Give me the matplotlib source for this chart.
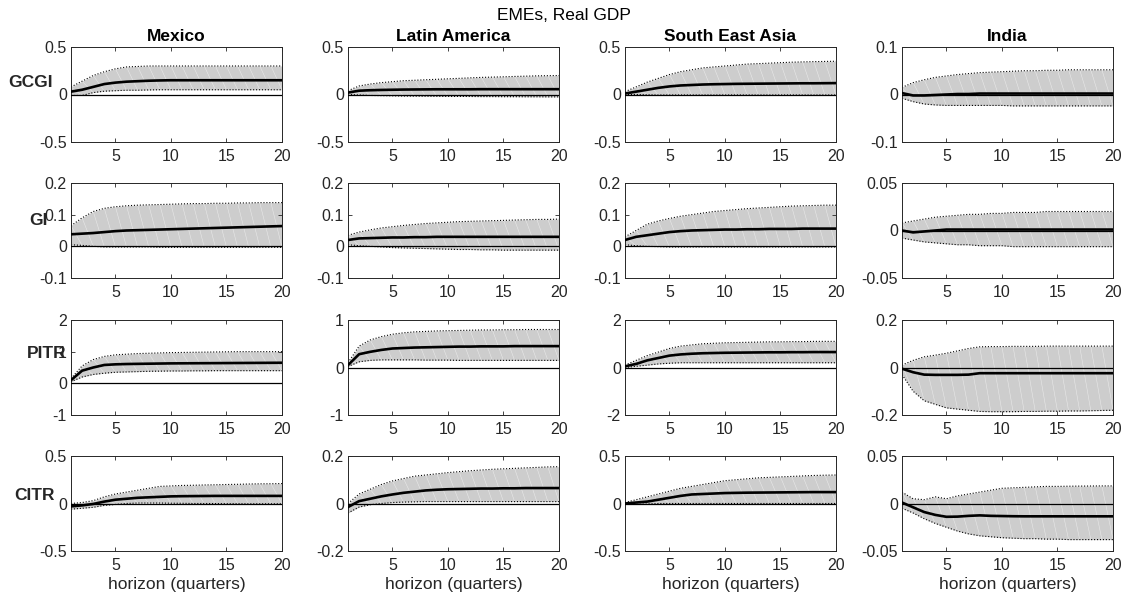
import numpy as np
import matplotlib
matplotlib.use("Agg")
import matplotlib.pyplot as plt

plt.rcParams['font.family'] = ['Liberation Sans', 'DejaVu Sans']

horizon = np.arange(1, 21)
variables = ['GCGI', 'GI', 'PITR', 'CITR']
regions = ['Mexico', 'Latin America', 'South East Asia', 'India']

# --- GCGI shock ---
gcgi_mex_mid = [0.03, 0.05, 0.08, 0.11, 0.125, 0.135, 0.14, 0.145, 0.148, 0.15, 0.15, 0.15, 0.15, 0.15, 0.15, 0.15, 0.15, 0.15, 0.15, 0.15]
gcgi_mex_hi = [0.08, 0.14, 0.20, 0.24, 0.27, 0.29, 0.295, 0.30, 0.30, 0.30, 0.30, 0.30, 0.30, 0.30, 0.30, 0.30, 0.30, 0.30, 0.30, 0.30]
gcgi_mex_lo = [-0.01, -0.01, 0.02, 0.035, 0.04, 0.045, 0.045, 0.048, 0.05, 0.05, 0.05, 0.05, 0.05, 0.05, 0.05, 0.05, 0.05, 0.05, 0.05, 0.05]

gcgi_lat_mid = [0.02, 0.04, 0.045, 0.048, 0.05, 0.052, 0.053, 0.054, 0.055, 0.055, 0.055, 0.055, 0.056, 0.056, 0.056, 0.056, 0.056, 0.056, 0.056, 0.056]
gcgi_lat_hi = [0.04, 0.09, 0.11, 0.125, 0.135, 0.145, 0.15, 0.155, 0.16, 0.165, 0.17, 0.175, 0.18, 0.183, 0.186, 0.19, 0.193, 0.196, 0.198, 0.20]
gcgi_lat_lo = [0.0, -0.005, -0.01, -0.012, -0.014, -0.016, -0.017, -0.018, -0.019, -0.02, -0.02, -0.021, -0.022, -0.022, -0.023, -0.023, -0.024, -0.024, -0.025, -0.025]

gcgi_sea_mid = [0.01, 0.03, 0.05, 0.07, 0.085, 0.095, 0.10, 0.105, 0.108, 0.11, 0.112, 0.113, 0.114, 0.115, 0.116, 0.117, 0.118, 0.118, 0.119, 0.12]
gcgi_sea_hi = [0.03, 0.08, 0.13, 0.17, 0.21, 0.24, 0.26, 0.28, 0.29, 0.30, 0.31, 0.32, 0.325, 0.33, 0.335, 0.34, 0.343, 0.346, 0.348, 0.35]
gcgi_sea_lo = [0.0, 0.0, -0.003, -0.005, -0.005, -0.005, -0.005, -0.005, -0.005, -0.005, -0.005, -0.005, -0.005, -0.005, -0.005, -0.005, -0.005, -0.005, -0.005, -0.005]

gcgi_ind_mid = [0.003, -0.002, -0.002, -0.001, 0.0, 0.001, 0.001, 0.002, 0.002, 0.002, 0.002, 0.002, 0.002, 0.002, 0.002, 0.002, 0.002, 0.002, 0.002, 0.002]
gcgi_ind_hi = [0.015, 0.025, 0.031, 0.036, 0.039, 0.042, 0.044, 0.046, 0.047, 0.048, 0.049, 0.05, 0.05, 0.051, 0.051, 0.052, 0.052, 0.052, 0.052, 0.052]
gcgi_ind_lo = [-0.008, -0.015, -0.02, -0.022, -0.023, -0.023, -0.023, -0.023, -0.023, -0.023, -0.024, -0.024, -0.024, -0.024, -0.024, -0.024, -0.024, -0.024, -0.024, -0.024]

# --- GI shock ---
gi_mex_mid = [0.038, 0.04, 0.042, 0.045, 0.048, 0.05, 0.051, 0.052, 0.053, 0.054, 0.055, 0.056, 0.057, 0.058, 0.059, 0.06, 0.061, 0.062, 0.063, 0.064]
gi_mex_hi = [0.065, 0.09, 0.11, 0.12, 0.125, 0.128, 0.13, 0.131, 0.132, 0.133, 0.134, 0.135, 0.135, 0.136, 0.136, 0.137, 0.137, 0.138, 0.138, 0.138]
gi_mex_lo = [0.005, 0.003, 0.0, -0.002, -0.002, -0.002, -0.002, -0.002, -0.003, -0.003, -0.003, -0.003, -0.003, -0.003, -0.003, -0.003, -0.003, -0.003, -0.003, -0.003]

gi_lat_mid = [0.02, 0.025, 0.026, 0.027, 0.028, 0.028, 0.029, 0.029, 0.03, 0.03, 0.03, 0.03, 0.03, 0.03, 0.03, 0.03, 0.03, 0.03, 0.03, 0.03]
gi_lat_hi = [0.035, 0.045, 0.052, 0.058, 0.062, 0.066, 0.069, 0.072, 0.074, 0.076, 0.078, 0.079, 0.08, 0.081, 0.082, 0.083, 0.084, 0.085, 0.085, 0.086]
gi_lat_lo = [0.005, 0.002, 0.0, -0.002, -0.004, -0.005, -0.006, -0.007, -0.008, -0.009, -0.01, -0.01, -0.011, -0.011, -0.012, -0.012, -0.012, -0.012, -0.012, -0.012]

gi_sea_mid = [0.02, 0.03, 0.035, 0.04, 0.045, 0.048, 0.05, 0.051, 0.052, 0.053, 0.053, 0.054, 0.054, 0.055, 0.055, 0.055, 0.056, 0.056, 0.056, 0.056]
gi_sea_hi = [0.03, 0.05, 0.07, 0.08, 0.088, 0.095, 0.10, 0.105, 0.11, 0.113, 0.116, 0.119, 0.121, 0.123, 0.125, 0.127, 0.128, 0.129, 0.13, 0.13]
gi_sea_lo = [0.005, 0.002, 0.0, -0.001, -0.002, -0.002, -0.002, -0.002, -0.002, -0.002, -0.002, -0.002, -0.002, -0.002, -0.002, -0.002, -0.002, -0.002, -0.002, -0.002]

gi_ind_mid = [0.0, -0.002, -0.001, 0.0, 0.001, 0.001, 0.001, 0.001, 0.001, 0.001, 0.001, 0.001, 0.001, 0.001, 0.001, 0.001, 0.001, 0.001, 0.001, 0.001]
gi_ind_hi = [0.008, 0.01, 0.012, 0.014, 0.015, 0.016, 0.017, 0.017, 0.018, 0.018, 0.019, 0.019, 0.019, 0.02, 0.02, 0.02, 0.02, 0.02, 0.02, 0.02]
gi_ind_lo = [-0.008, -0.01, -0.012, -0.013, -0.014, -0.015, -0.015, -0.016, -0.016, -0.016, -0.017, -0.017, -0.017, -0.017, -0.017, -0.017, -0.017, -0.017, -0.017, -0.017]

# --- PITR shock ---
pitr_mex_mid = [0.1, 0.4, 0.5, 0.58, 0.6, 0.61, 0.615, 0.62, 0.625, 0.63, 0.632, 0.634, 0.636, 0.638, 0.64, 0.642, 0.644, 0.646, 0.648, 0.65]
pitr_mex_hi = [0.15, 0.55, 0.75, 0.85, 0.9, 0.92, 0.94, 0.95, 0.96, 0.97, 0.975, 0.98, 0.985, 0.99, 0.995, 1.0, 1.0, 1.0, 1.0, 1.0]
pitr_mex_lo = [0.05, 0.2, 0.28, 0.32, 0.35, 0.36, 0.37, 0.38, 0.385, 0.39, 0.39, 0.395, 0.395, 0.4, 0.4, 0.4, 0.4, 0.4, 0.4, 0.4]

pitr_lat_mid = [0.05, 0.28, 0.33, 0.37, 0.4, 0.41, 0.42, 0.425, 0.43, 0.435, 0.44, 0.44, 0.445, 0.445, 0.445, 0.45, 0.45, 0.45, 0.45, 0.45]
pitr_lat_hi = [0.1, 0.45, 0.58, 0.65, 0.7, 0.73, 0.75, 0.76, 0.77, 0.775, 0.78, 0.785, 0.79, 0.79, 0.795, 0.795, 0.8, 0.8, 0.8, 0.8]
pitr_lat_lo = [0.02, 0.12, 0.15, 0.16, 0.16, 0.16, 0.16, 0.155, 0.155, 0.155, 0.15, 0.15, 0.15, 0.15, 0.15, 0.15, 0.15, 0.15, 0.15, 0.15]

pitr_sea_mid = [0.05, 0.15, 0.3, 0.4, 0.5, 0.55, 0.58, 0.6, 0.61, 0.62, 0.625, 0.63, 0.635, 0.64, 0.64, 0.645, 0.645, 0.65, 0.65, 0.65]
pitr_sea_hi = [0.1, 0.3, 0.5, 0.65, 0.8, 0.9, 0.95, 1.0, 1.02, 1.04, 1.05, 1.06, 1.07, 1.08, 1.08, 1.09, 1.09, 1.1, 1.1, 1.1]
pitr_sea_lo = [0.0, 0.05, 0.1, 0.15, 0.18, 0.2, 0.2, 0.2, 0.2, 0.2, 0.2, 0.2, 0.2, 0.2, 0.2, 0.2, 0.2, 0.2, 0.2, 0.2]

pitr_ind_mid = [-0.005, -0.02, -0.03, -0.031, -0.031, -0.031, -0.03, -0.024, -0.024, -0.024, -0.024, -0.024, -0.024, -0.024, -0.024, -0.024, -0.024, -0.024, -0.024, -0.024]
pitr_ind_hi = [0.01, 0.03, 0.045, 0.052, 0.06, 0.07, 0.08, 0.087, 0.088, 0.088, 0.089, 0.089, 0.089, 0.09, 0.09, 0.09, 0.09, 0.09, 0.09, 0.09]
pitr_ind_lo = [-0.03, -0.1, -0.14, -0.155, -0.17, -0.175, -0.18, -0.185, -0.186, -0.186, -0.186, -0.185, -0.185, -0.184, -0.184, -0.183, -0.183, -0.182, -0.181, -0.18]

# --- CITR shock ---
citr_mex_mid = [-0.03, -0.02, -0.005, 0.02, 0.04, 0.05, 0.06, 0.065, 0.07, 0.075, 0.077, 0.078, 0.079, 0.08, 0.08, 0.08, 0.08, 0.08, 0.08, 0.08]
citr_mex_hi = [0.0, 0.01, 0.03, 0.07, 0.10, 0.12, 0.14, 0.16, 0.18, 0.185, 0.19, 0.192, 0.195, 0.197, 0.2, 0.202, 0.205, 0.207, 0.208, 0.21]
citr_mex_lo = [-0.06, -0.05, -0.04, -0.02, -0.01, 0.0, 0.005, 0.005, 0.005, 0.003, 0.002, 0.0, 0.0, -0.001, -0.002, -0.002, -0.003, -0.003, -0.003, -0.003]

citr_lat_mid = [-0.015, 0.01, 0.02, 0.03, 0.038, 0.045, 0.05, 0.055, 0.058, 0.06, 0.061, 0.062, 0.063, 0.063, 0.064, 0.064, 0.065, 0.065, 0.065, 0.065]
citr_lat_hi = [0.0, 0.04, 0.06, 0.08, 0.095, 0.105, 0.115, 0.12, 0.125, 0.13, 0.134, 0.138, 0.141, 0.144, 0.146, 0.148, 0.15, 0.152, 0.154, 0.155]
citr_lat_lo = [-0.04, -0.015, -0.005, 0.0, 0.004, 0.006, 0.007, 0.008, 0.008, 0.008, 0.008, 0.008, 0.008, 0.008, 0.008, 0.008, 0.008, 0.008, 0.008, 0.008]

citr_sea_mid = [0.0, 0.01, 0.02, 0.04, 0.06, 0.08, 0.095, 0.10, 0.105, 0.11, 0.112, 0.114, 0.115, 0.116, 0.117, 0.118, 0.119, 0.12, 0.12, 0.12]
citr_sea_hi = [0.01, 0.04, 0.07, 0.10, 0.13, 0.16, 0.18, 0.20, 0.22, 0.24, 0.25, 0.26, 0.27, 0.275, 0.28, 0.285, 0.29, 0.295, 0.298, 0.30]
citr_sea_lo = [-0.01, -0.01, -0.005, 0.0, 0.0, 0.0, 0.0, 0.0, 0.0, 0.0, 0.0, 0.0, 0.0, 0.0, 0.0, 0.0, 0.0, 0.0, 0.0, 0.0]

citr_ind_mid = [0.001, -0.004, -0.009, -0.012, -0.014, -0.0138, -0.013, -0.0125, -0.013, -0.0132, -0.0134, -0.0135, -0.0135, -0.0135, -0.0135, -0.0135, -0.0135, -0.0135, -0.0135, -0.0135]
citr_ind_hi = [0.012, 0.005, 0.004, 0.007, 0.005, 0.008, 0.01, 0.012, 0.014, 0.016, 0.0165, 0.017, 0.0175, 0.018, 0.018, 0.0182, 0.0183, 0.0184, 0.0185, 0.0185]
citr_ind_lo = [-0.005, -0.01, -0.016, -0.021, -0.025, -0.029, -0.032, -0.034, -0.035, -0.036, -0.0365, -0.037, -0.037, -0.0375, -0.0375, -0.038, -0.038, -0.038, -0.038, -0.038]

irf = [
    [(gcgi_mex_mid, gcgi_mex_lo, gcgi_mex_hi), (gcgi_lat_mid, gcgi_lat_lo, gcgi_lat_hi),
     (gcgi_sea_mid, gcgi_sea_lo, gcgi_sea_hi), (gcgi_ind_mid, gcgi_ind_lo, gcgi_ind_hi)],
    [(gi_mex_mid, gi_mex_lo, gi_mex_hi), (gi_lat_mid, gi_lat_lo, gi_lat_hi),
     (gi_sea_mid, gi_sea_lo, gi_sea_hi), (gi_ind_mid, gi_ind_lo, gi_ind_hi)],
    [(pitr_mex_mid, pitr_mex_lo, pitr_mex_hi), (pitr_lat_mid, pitr_lat_lo, pitr_lat_hi),
     (pitr_sea_mid, pitr_sea_lo, pitr_sea_hi), (pitr_ind_mid, pitr_ind_lo, pitr_ind_hi)],
    [(citr_mex_mid, citr_mex_lo, citr_mex_hi), (citr_lat_mid, citr_lat_lo, citr_lat_hi),
     (citr_sea_mid, citr_sea_lo, citr_sea_hi), (citr_ind_mid, citr_ind_lo, citr_ind_hi)],
]

# y-axis ticks per panel (limits are first and last tick)
yticks = [
    [[-0.5, 0, 0.5], [-0.5, 0, 0.5], [-0.5, 0, 0.5], [-0.1, 0, 0.1]],
    [[-0.1, 0, 0.1, 0.2], [-0.1, 0, 0.1, 0.2], [-0.1, 0, 0.1, 0.2], [-0.05, 0, 0.05]],
    [[-1, 0, 1, 2], [-1, 0, 1], [-2, 0, 2], [-0.2, 0, 0.2]],
    [[-0.5, 0, 0.5], [-0.2, 0, 0.2], [-0.5, 0, 0.5], [-0.05, 0, 0.05]],
]

W, H = 1127, 604
fig = plt.figure(figsize=(W / 100, H / 100), dpi=100)
fig.patch.set_facecolor('white')

col_left = [71, 348, 625, 902]
row_top = [47, 183, 320, 456]
ax_w, ax_h = 211, 95
label_xy = [(-0.19, 0.625), (-0.156, 0.61), (-0.114, 0.65), (-0.175, 0.585)]
frame_col = '#262626'


def fmt(v):
    return '0' if v == 0 else ('%g' % v)


for i in range(4):
    for j in range(4):
        ax = fig.add_axes([col_left[j] / W, 1 - (row_top[i] + ax_h) / H, ax_w / W, ax_h / H])
        mid, lo, hi = (np.array(s) for s in irf[i][j])

        ax.fill_between(horizon, lo, hi, color='#cdcdcd', linewidth=0, zorder=1)
        # faint seams of the patch triangulation
        for k in range(len(horizon) - 1):
            ax.plot([horizon[k], horizon[k + 1]], [hi[k], lo[k + 1]],
                    color='white', lw=0.4, alpha=0.55, zorder=1.5)
        ax.plot(horizon, hi, ':', color='black', lw=0.8, zorder=2)
        ax.plot(horizon, lo, ':', color='black', lw=0.8, zorder=2)
        ax.axhline(0, color='black', lw=0.9, zorder=3)
        ax.plot(horizon, mid, color='black', lw=1.9, zorder=4)

        yt = yticks[i][j]
        ax.set_xlim(1, 20)
        ax.set_ylim(yt[0], yt[-1])
        ax.set_xticks([5, 10, 15, 20])
        ax.set_yticks(yt)
        ax.set_yticklabels([fmt(v) for v in yt])
        ax.tick_params(direction='in', length=3, width=0.6, colors=frame_col,
                       labelsize=11.5, top=True, right=True)
        ax.tick_params(axis='x', pad=5)
        ax.tick_params(axis='y', pad=3)
        for sp in ax.spines.values():
            sp.set_color(frame_col)
            sp.set_linewidth(0.7)

        if i == 0:
            ax.set_title(regions[j], fontsize=12.5, fontweight='bold', pad=4)
        if i == 3:
            ax.set_xlabel('horizon (quarters)', fontsize=12.5, color=frame_col, labelpad=3)
        if j == 0:
            ax.set_ylabel(variables[i], rotation=0, fontsize=12.5, fontweight='bold',
                          color=frame_col, ha='center', va='center')
            ax.yaxis.set_label_coords(*label_xy[i])

fig.text(0.5, 1 - 15 / H, 'EMEs, Real GDP', ha='center', va='center', fontsize=12.5)

fig.savefig('out.png', dpi=100)
